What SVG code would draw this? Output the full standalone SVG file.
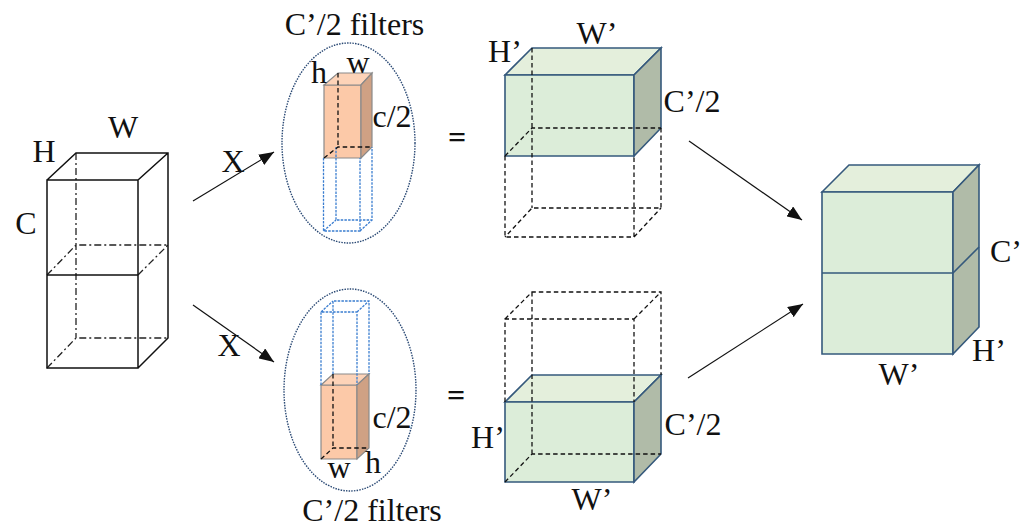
<svg xmlns="http://www.w3.org/2000/svg" width="1026" height="532" viewBox="0 0 1026 532">
<style>
text{font-family:"Liberation Serif","Times New Roman",serif;font-size:32px;fill:#111;text-anchor:middle}
.eq{font-weight:bold}
.s{fill:none;stroke:#111;stroke-width:1.5}
.dd{fill:none;stroke:#222;stroke-width:1.3;stroke-dasharray:7 3 2 3}
.d{fill:none;stroke:#111;stroke-width:1.3;stroke-dasharray:4.5 3}
.b{fill:none;stroke:#3a7dd0;stroke-width:1.3;stroke-dasharray:2.5 1.2}
.e{fill:none;stroke:#2b4a75;stroke-width:1.4;stroke-dasharray:1.5 1.2}
.gf{fill:#dcedd9;stroke:#35597c;stroke-width:1.6}
.gt{fill:#e4efdc;stroke:#35597c;stroke-width:1.6}
.gs{fill:#b0bba8;stroke:#35597c;stroke-width:1.6}
.of{fill:#fcc9a8;stroke:#8a8a8a;stroke-width:1.2}
.ot{fill:#fdd3b8;stroke:#8a8a8a;stroke-width:1.2}
.os{fill:#cfa184;stroke:#8a8a8a;stroke-width:1.2}
.a{stroke:#111;stroke-width:1.2;fill:none;marker-end:url(#ah)}
</style>
<defs>
<marker id="ah" markerUnits="userSpaceOnUse" markerWidth="16" markerHeight="12" refX="15" refY="6" orient="auto"><path d="M0 0L15 6L0 12Z" fill="#111"/></marker>
</defs>
<rect width="1026" height="532" fill="#fff"/>

<g id="input-cube">
<path class="dd" d="M76 153V338M47 368L76 338H168M47 275L76 245H168M138 275L168 245"/>
<path class="s" d="M47 180H138V368H47ZM47 275H138M47 180L76 153H168V338L138 368M138 180L168 153"/>
<text x="44" y="162">H</text><text x="123" y="138">W</text><text x="26" y="234">C</text>
</g>

<g id="filter-top">
<ellipse class="e" cx="348.500" cy="143" rx="66.500" ry="100"/>
<path class="of" d="M324 85H361V158H324Z"/>
<path class="ot" d="M324 85L338 73H372L361 85Z"/>
<path class="os" d="M361 85L372 73V147L361 158Z"/>
<path class="b" d="M323.500 158V231H360V158M336 147V220H372V147M323.500 231L336 220M360 231L372 220"/>
<path class="d" d="M338 73V147M324 158L338 147H372"/>
<text x="354.500" y="35">C’/2 filters</text>
<text x="319" y="83">h</text><text x="358" y="73">w</text><text x="392" y="127">c/2</text>
</g>

<g id="filter-bottom">
<ellipse class="e" cx="350" cy="390" rx="66" ry="101"/>
<path class="of" d="M321 385H357V459H321Z"/>
<path class="ot" d="M321 385L333 374H369L357 385Z"/>
<path class="os" d="M357 385L369 374V448L357 459Z"/>
<path class="b" d="M321 385V312H357V385M333 374V301H369V374M321 312L333 301M357 312L369 301"/>
<path class="d" d="M333 374V448M321 459L333 448H369"/>
<text x="372" y="521">C’/2 filters</text>
<text x="339" y="478">w</text><text x="373" y="473">h</text><text x="392" y="428">c/2</text>
</g>

<g id="equals-top"><text class="eq" x="457" y="148">=</text></g>
<g id="equals-bottom"><text class="eq" x="456" y="406">=</text></g>

<g id="output-top">
<path class="gt" d="M505 75L532 48H661L634 75Z"/>
<path class="gf" d="M505 75H634V156H505Z"/>
<path class="gs" d="M634 75L661 48V128L634 156Z"/>
<path class="d" d="M532 48V208M505 156L532 128H661M505 156V237H634V156M661 128V208H532L505 237M634 237L661 208"/>
<text x="505" y="62">H’</text><text x="597" y="44">W’</text><text x="692" y="112">C’/2</text>
</g>

<g id="output-bottom">
<path class="gt" d="M505 402L532 375H661L634 402Z"/>
<path class="gf" d="M505 402H634V482H505Z"/>
<path class="gs" d="M634 402L661 375V454L634 482Z"/>
<path class="d" d="M505 402V319H634V402M505 319L532 292H661V375M634 319L661 292M532 292V454M505 482L532 454H661"/>
<text x="488" y="448">H’</text><text x="592" y="510">W’</text><text x="693" y="435">C’/2</text>
</g>

<g id="result-cube">
<path class="gt" d="M822 192L849 165H979L953 192Z"/>
<path class="gf" d="M822 192H953V354H822Z"/>
<path class="gs" d="M953 192L979 165V327L953 354Z"/>
<path class="gf" style="fill:none" d="M822 273H953L979 247"/>
<text x="1006" y="262">C’</text><text x="989" y="361">H’</text><text x="899" y="385">W’</text>
</g>

<g id="connectors">
<path class="a" d="M193 201L274 152"/>
<path class="a" d="M193 305L274 362"/>
<path class="a" d="M689 141L802 220"/>
<path class="a" d="M688 378L803 304"/>
<text x="233" y="172">X</text>
<text x="229" y="356">X</text>
</g>
</svg>
